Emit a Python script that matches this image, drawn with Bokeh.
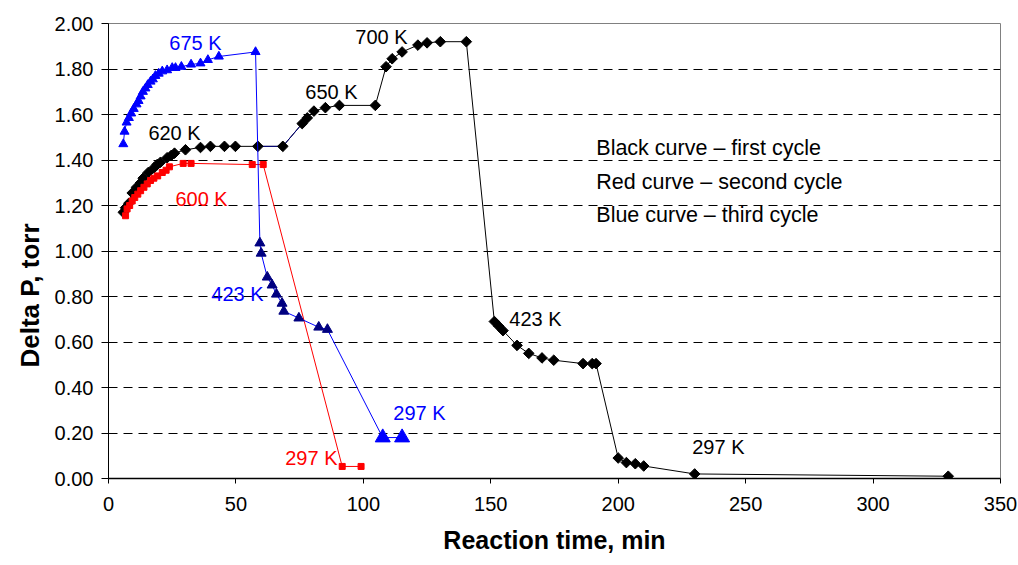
import math
from bokeh.plotting import figure
from bokeh.models import ColumnDataSource, Title, FixedTicker, NumeralTickFormatter
from bokeh.core.properties import value
from bokeh.embed import file_html
from bokeh.resources import INLINE

# ---- data ----
# first cycle (black)
t_first = [5.8, 6.7, 8.0, 9.3, 11.0, 12.6, 13.6, 15.6, 17.8, 19.1, 20.4, 23.0, 24.6, 25.9,
           30.2, 36.1, 40.0, 45.5, 49.8, 58.6, 68.4, 76.0, 78.0, 80.6, 85.1, 90.6, 104.7,
           108.9, 111.3, 115.2, 121.4, 125.0, 130.2, 140.4, 151.4, 153.1, 154.8, 160.3,
           164.9, 170.1, 174.7, 186.2, 189.8, 191.3, 200.0, 203.2, 206.7, 210.0, 230.0, 329.5]
p_first = [1.17, 1.19, 1.21, 1.255, 1.28, 1.30, 1.32, 1.345, 1.365, 1.38, 1.39, 1.41, 1.42, 1.43,
           1.445, 1.455, 1.46, 1.46, 1.46, 1.46, 1.46, 1.56, 1.585, 1.615, 1.63, 1.64, 1.64,
           1.81, 1.845, 1.875, 1.905, 1.915, 1.92, 1.92, 0.69, 0.67, 0.65, 0.585,
           0.55, 0.53, 0.52, 0.505, 0.505, 0.505, 0.09, 0.07, 0.065, 0.055, 0.02, 0.01]

# second cycle (red)
t_second = [6.7, 7.3, 8.3, 9.3, 10.3, 11.5, 12.6, 13.9, 15.2, 16.5, 17.8, 19.3, 21.1, 22.6,
            23.9, 29.3, 32.4, 56.4, 60.7, 91.7, 99.1]
p_second = [1.155, 1.185, 1.20, 1.22, 1.235, 1.25, 1.265, 1.28, 1.295, 1.31, 1.32, 1.33, 1.345,
            1.355, 1.37, 1.385, 1.385, 1.38, 1.38, 0.053, 0.053]

# third cycle (blue)
t_third = [5.8, 6.3, 7.1, 8.0, 8.9, 9.9, 11.0, 11.8, 12.6, 13.5, 14.5, 15.4, 16.5, 17.4, 18.4,
           19.7, 21.1, 23.0, 25.0, 26.3, 28.6, 32.4, 36.1, 39.0, 43.3, 57.7, 59.4, 59.9, 62.3,
           64.2, 65.9, 68.1, 68.8, 74.7, 82.5, 85.9, 107.6, 115.2]
p_third = [1.47, 1.525, 1.565, 1.585, 1.605, 1.625, 1.645, 1.66, 1.68, 1.70, 1.715, 1.73, 1.745,
           1.755, 1.77, 1.78, 1.79, 1.795, 1.805, 1.805, 1.81, 1.82, 1.825, 1.84, 1.855, 1.875,
           1.035, 0.99, 0.885, 0.85, 0.81, 0.77, 0.735, 0.705, 0.665, 0.655, 0.18, 0.18]
stage_third = ["675 K"] * 26 + ["423 K"] * 10 + ["297 K"] * 2

# temperature labels
lab_text = ["675 K", "620 K", "600 K", "650 K", "700 K", "423 K", "423 K", "297 K", "297 K", "297 K"]
lab_x = [34.1, 25.9, 36.5, 87.5, 107.1, 50.6, 167.5, 122.0, 79.6, 239.3]
lab_y = [1.915, 1.52, 1.23, 1.697, 1.940, 0.813, 0.703, 0.29, 0.090, 0.14]
lab_color = ["#0000FF", "black", "#FF0000", "black", "black", "#0000FF", "black", "#0000FF",
             "#FF0000", "black"]

notes = ["Black curve \u2013 first cycle", "Red curve \u2013 second cycle", "Blue curve \u2013 third cycle"]
notes_y = [1.451, 1.305, 1.160]
notes_x = 191.4

x_ticks = [0, 50, 100, 150, 200, 250, 300, 350]
y_ticks = [0.0, 0.2, 0.4, 0.6, 0.8, 1.0, 1.2, 1.4, 1.6, 1.8, 2.0]

FONT = "Liberation Sans"

p = figure(width=1018, height=565, x_range=(0, 350), y_range=(0, 2.0),
           output_backend="svg", toolbar_location=None,
           min_border_left=108, min_border_right=18, min_border_top=23, min_border_bottom=87)
p.background_fill_color = "white"
p.border_fill_color = "white"
p.outline_line_color = "#808080"
p.outline_line_width = 1

# axes
p.xaxis.ticker = FixedTicker(ticks=x_ticks)
p.yaxis.ticker = FixedTicker(ticks=y_ticks)
p.yaxis.formatter = NumeralTickFormatter(format="0.00")
for ax in (p.xaxis, p.yaxis):
    ax.axis_line_color = "black"
    ax.major_tick_line_color = "black"
    ax.minor_tick_line_color = None
    ax.major_label_text_font = FONT
    ax.major_label_text_font_size = "20px"
    ax.major_label_text_color = "black"
    ax.major_tick_in = 0
p.xaxis.axis_line_width = 1.5
p.xaxis.major_tick_out = 5
p.xaxis.major_label_standoff = 13
p.yaxis.major_tick_out = 7
p.yaxis.major_label_standoff = 8

p.xaxis.axis_label = "Reaction time, min"
p.xaxis.axis_label_text_font = FONT
p.xaxis.axis_label_text_font_style = "bold"
p.xaxis.axis_label_text_font_size = "25px"
p.xaxis.axis_label_text_color = "black"
p.xaxis.axis_label_standoff = 12

# y axis title as a left-side title (placed lower like the reference)
p.add_layout(Title(text="Delta P, torr", align="left", offset=111, standoff=14,
                   text_font=FONT, text_font_style="bold", text_font_size="26px",
                   text_color="black"), "left")

# grid
p.xgrid.grid_line_color = None
p.ygrid.ticker = FixedTicker(ticks=y_ticks[1:-1])
p.ygrid.grid_line_color = "black"
p.ygrid.grid_line_dash = "9 6"
p.ygrid.grid_line_width = 1

# first cycle
p.line(t_first, p_first, line_color="black", line_width=1)
p.line(t_first[19:22], p_first[19:22], line_color="#000080", line_width=1)
p.scatter(t_first, p_first, marker="square", angle=math.pi / 4, size=7.5,
          fill_color="black", line_color="black")

# second cycle
p.line(t_second, p_second, line_color="#FF0000", line_width=1)
p.scatter(t_second, p_second, marker="square", size=6, fill_color="#FF0000", line_color="#FF0000")

# third cycle
stage_color = {"675 K": "#0000FF", "423 K": "#000080", "297 K": "#0000FF"}
stage_size = {"675 K": 9, "423 K": 10, "297 K": 15}
src3 = ColumnDataSource(dict(t=t_third, p=p_third,
                             c=[stage_color[s] for s in stage_third],
                             s=[stage_size[s] for s in stage_third]))
p.line(t_third, p_third, line_color="#0000FF", line_width=1)
p.scatter("t", "p", source=src3, marker="triangle", size="s", fill_color="c", line_color="c")

# labels
lab_src = ColumnDataSource(dict(x=lab_x, y=lab_y, t=lab_text, c=lab_color))
p.text("x", "y", text="t", source=lab_src, text_color="c", text_font=value(FONT),
       text_font_size="20px", text_align="center", text_baseline="middle")

note_src = ColumnDataSource(dict(x=[notes_x] * len(notes), y=notes_y, t=notes))
p.text("x", "y", text="t", source=note_src, text_color="black", text_font=value(FONT),
       text_font_size="21.5px", text_align="left", text_baseline="middle")

open("out.html", "w").write(file_html(p, INLINE))
